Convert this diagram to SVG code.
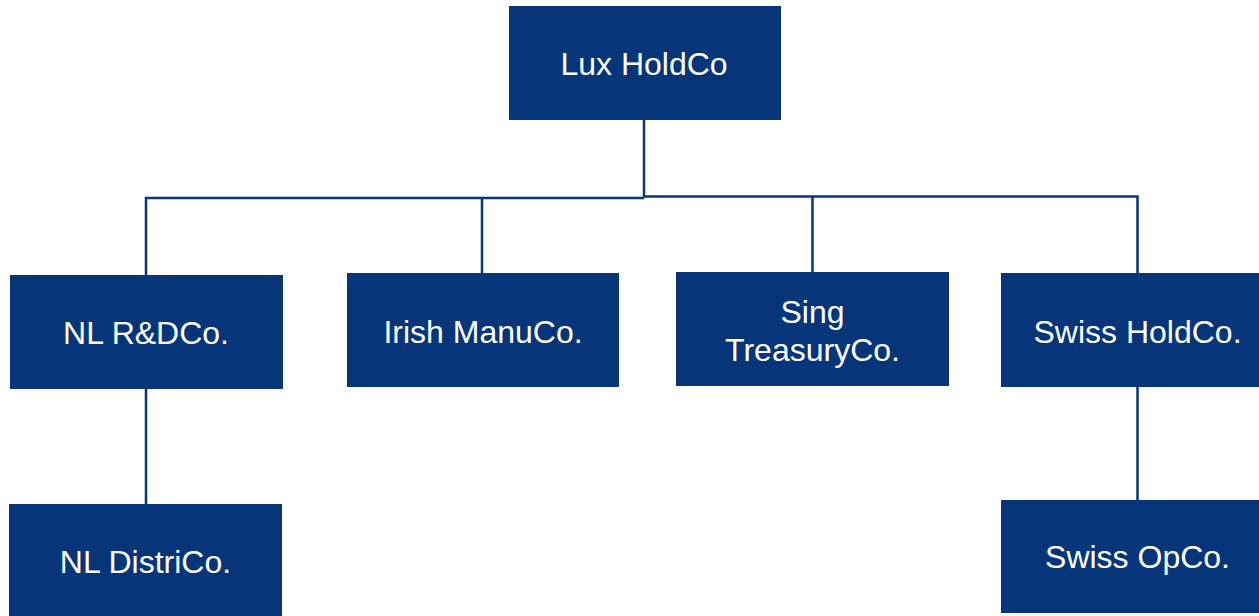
<svg xmlns="http://www.w3.org/2000/svg" width="1259" height="616" viewBox="0 0 1259 616">
<style>
.box{fill:#06357A;}
.lbl{font-family:"Liberation Sans",Arial,sans-serif;font-size:32px;fill:#FFFFFF;text-anchor:middle;}
.con{fill:none;stroke:#06357A;stroke-width:2.5;}
</style>
<rect width="1259" height="616" fill="#FFFFFF"/>
<g id="connectors">
<path class="con" d="M644,119 V197.5"/>
<path class="con" d="M146,275 V198 H644"/>
<path class="con" d="M644,196.5 H1137.5 V273"/>
<path class="con" d="M482,273 V197.5"/>
<path class="con" d="M812.5,272 V196.5"/>
<path class="con" d="M146,389 V504"/>
<path class="con" d="M1137.5,387 V500"/>
</g>
<g id="lux-holdco">
<rect class="box" x="509" y="6" width="272" height="114"/>
<text class="lbl" x="644" y="75">Lux HoldCo</text>
</g>
<g id="nl-rdco">
<rect class="box" x="10" y="275" width="273" height="114"/>
<text class="lbl" x="146" y="344">NL R&amp;DCo.</text>
</g>
<g id="irish-manuco">
<rect class="box" x="347" y="273" width="272" height="114"/>
<text class="lbl" x="483" y="343">Irish ManuCo.</text>
</g>
<g id="sing-treasuryco">
<rect class="box" x="676" y="272" width="273" height="114"/>
<text class="lbl" x="812.5" y="323">Sing</text>
<text class="lbl" x="812.5" y="361">TreasuryCo.</text>
</g>
<g id="swiss-holdco">
<rect class="box" x="1001" y="273" width="272" height="114"/>
<text class="lbl" x="1137.5" y="343">Swiss HoldCo.</text>
</g>
<g id="nl-districo">
<rect class="box" x="9" y="504" width="273" height="114"/>
<text class="lbl" x="145.5" y="573">NL DistriCo.</text>
</g>
<g id="swiss-opco">
<rect class="box" x="1001" y="500" width="272" height="113"/>
<text class="lbl" x="1137.5" y="568">Swiss OpCo.</text>
</g>
</svg>
